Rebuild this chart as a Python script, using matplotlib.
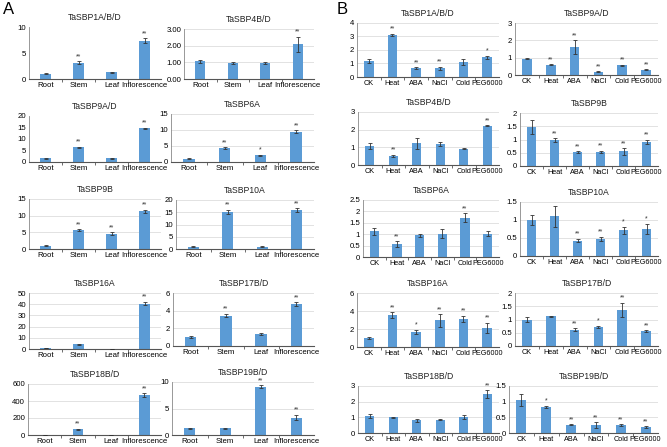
import matplotlib
matplotlib.use("Agg")
import matplotlib.pyplot as plt
from matplotlib.ticker import FuncFormatter

plt.rcParams['font.family'] = ['Liberation Sans', 'DejaVu Sans']

W, H = 667, 447

tissues = ["Root", "Stem", "Leaf", "Inflorescence"]
treatments = ["CK", "Heat", "ABA", "NaCl", "Cold", "PEG6000"]

# Panel A: tissue expression
a_titles = ["TaSBP1A/B/D", "TaSBP4B/D", "TaSBP9A/D", "TaSBP6A", "TaSBP9B",
            "TaSBP10A", "TaSBP16A", "TaSBP17B/D", "TaSBP18B/D", "TaSBP19B/D"]
a_values = [
    [1.0, 3.1, 1.3, 7.4],
    [1.07, 0.97, 0.98, 2.08],
    [1.6, 6.4, 1.6, 14.6],
    [1.0, 4.4, 2.1, 9.5],
    [1.0, 5.7, 4.6, 11.3],
    [1.0, 15.2, 1.0, 15.8],
    [1.0, 4.2, 0.3, 40.5],
    [1.0, 3.45, 1.35, 4.75],
    [1.0, 65, 1.0, 470],
    [1.3, 1.3, 9.1, 3.3],
]
a_errors = [
    [0.1, 0.3, 0.1, 0.4],
    [0.1, 0.06, 0.07, 0.45],
    [0.2, 0.3, 0.2, 0.3],
    [0.1, 0.3, 0.2, 0.4],
    [0.1, 0.2, 0.4, 0.5],
    [0.2, 0.9, 0.2, 0.9],
    [0.2, 0.4, 0.1, 1.5],
    [0.08, 0.2, 0.08, 0.2],
    [0.5, 8, 0.5, 25],
    [0.1, 0.1, 0.25, 0.5],
]
a_sig = [
    ["", "**", "", "**"],
    ["", "", "", "**"],
    ["", "**", "", "**"],
    ["", "**", "*", "**"],
    ["", "**", "**", "**"],
    ["", "**", "", "**"],
    ["", "", "", "**"],
    ["", "**", "", "**"],
    ["", "**", "", "**"],
    ["", "", "**", "**"],
]
a_yticks = [
    [0, 5, 10],
    [0, 1, 2, 3],
    [0, 5, 10, 15, 20],
    [0, 5, 10, 15],
    [0, 5, 10, 15],
    [0, 5, 10, 15, 20],
    [0, 10, 20, 30, 40, 50],
    [0, 2, 4, 6],
    [0, 200, 400, 600],
    [0, 5, 10],
]

# Panel B: stress treatments
b_titles = ["TaSBP1A/B/D", "TaSBP9A/D", "TaSBP4B/D", "TaSBP9B", "TaSBP6A",
            "TaSBP10A", "TaSBP16A", "TaSBP17B/D", "TaSBP18B/D", "TaSBP19B/D"]
b_values = [
    [1.15, 3.1, 0.65, 0.65, 1.1, 1.45],
    [0.95, 0.58, 1.6, 0.18, 0.57, 0.3],
    [1.08, 0.52, 1.23, 1.2, 0.93, 2.22],
    [1.47, 0.97, 0.52, 0.53, 0.55, 0.92],
    [1.12, 0.57, 0.95, 1.03, 1.73, 1.03],
    [1.0, 1.1, 0.43, 0.48, 0.71, 0.75],
    [1.0, 3.55, 1.7, 2.95, 3.1, 2.15],
    [1.0, 1.13, 0.62, 0.72, 1.37, 0.57],
    [1.08, 1.0, 0.8, 0.85, 1.0, 2.48],
    [1.05, 0.83, 0.26, 0.25, 0.25, 0.18],
]
b_errors = [
    [0.15, 0.1, 0.08, 0.1, 0.2, 0.12],
    [0.05, 0.03, 0.4, 0.03, 0.03, 0.03],
    [0.15, 0.05, 0.3, 0.1, 0.03, 0.03],
    [0.25, 0.07, 0.03, 0.05, 0.12, 0.08],
    [0.15, 0.12, 0.07, 0.18, 0.18, 0.12],
    [0.15, 0.3, 0.05, 0.06, 0.1, 0.15],
    [0.07, 0.3, 0.2, 0.7, 0.35, 0.55],
    [0.08, 0.02, 0.06, 0.05, 0.27, 0.03],
    [0.13, 0.05, 0.12, 0.05, 0.12, 0.25],
    [0.18, 0.04, 0.02, 0.1, 0.03, 0.03],
]
b_sig = [
    ["", "**", "**", "**", "", "*"],
    ["", "**", "**", "**", "**", "**"],
    ["", "**", "", "", "", "**"],
    ["", "**", "**", "**", "**", "**"],
    ["", "**", "", "", "**", ""],
    ["", "", "**", "**", "*", "*"],
    ["", "**", "*", "**", "**", "**"],
    ["", "", "**", "*", "**", "**"],
    ["", "", "", "", "", "**"],
    ["", "*", "**", "**", "**", "**"],
]
b_yticks = [
    [0, 1, 2, 3, 4],
    [0, 1, 2, 3],
    [0, 1, 2, 3],
    [0, 0.5, 1, 1.5, 2],
    [0, 0.5, 1, 1.5, 2, 2.5],
    [0, 0.5, 1, 1.5],
    [0, 2, 4, 6],
    [0, 0.5, 1, 1.5, 2],
    [0, 1, 2, 3],
    [0, 0.5, 1, 1.5],
]

# axes rectangles in pixels: (x0, x1, y_top, y_bottom)
a_rects = [
    (29, 161, 27, 79), (184, 314, 29, 79),
    (29, 161, 116, 162), (171, 314, 114, 162),
    (29, 161, 199, 249), (176, 314, 200, 249),
    (29, 161, 293, 349), (173, 314, 293, 346),
    (28, 161, 384, 435), (172, 314, 382, 435),
]
b_rects = [
    (357, 499, 23, 77), (515, 658, 23, 75),
    (358, 499, 112, 165), (520, 658, 113, 166),
    (363, 499, 200, 257), (520, 658, 202, 256),
    (357, 499, 293, 347), (515, 658, 293, 346),
    (358, 499, 386, 433), (509, 658, 386, 433),
]
a_grid = [False, True, False, True, True, True, True, True, True, True]

BAR = "#5b9bd5"
fig = plt.figure(figsize=(W / 100, H / 100), dpi=100)


def fmt_default(v, pos):
    return "%g" % v


def fmt_2dec(v, pos):
    return "%.2f" % v


def draw(rect, cats, vals, errs, sig, yticks, title, width, xsize,
         grid=True, fmt=fmt_default):
    x0, x1, yt, yb = rect
    ax = fig.add_axes([x0 / W, 1 - yb / H, (x1 - x0) / W, (yb - yt) / H])
    xs = list(range(len(cats)))
    ax.bar(xs, vals, width=width, color=BAR, zorder=2)
    ax.errorbar(xs, vals, yerr=errs, fmt="none", ecolor="#333333",
                elinewidth=0.6, capsize=1.2, capthick=0.6, zorder=3)
    ymax = yticks[-1]
    for x, v, e, s in zip(xs, vals, errs, sig):
        if s:
            ax.text(x, v + e + ymax * 0.02, s, ha="center", va="bottom",
                    fontsize=5, color="#333333")
    ax.set_xlim(-0.5, len(cats) - 0.5)
    ax.set_ylim(0, ymax)
    ax.set_yticks(yticks)
    ax.yaxis.set_major_formatter(FuncFormatter(fmt))
    ax.set_xticks(xs)
    ax.set_xticklabels(cats)
    ax.tick_params(axis="x", length=0, labelsize=xsize, pad=2.5, colors="black")
    ax.tick_params(axis="y", length=0, labelsize=5.6, pad=2, colors="black")
    ax.set_xticks([i + 0.5 for i in xs[:-1]], minor=True)
    ax.tick_params(axis="x", which="minor", length=2, width=0.6, color="#555555")
    for sp in ["top", "right"]:
        ax.spines[sp].set_visible(False)
    ax.spines["left"].set_color("#888888")
    ax.spines["left"].set_linewidth(0.6)
    ax.spines["bottom"].set_color("#555555")
    ax.spines["bottom"].set_linewidth(0.8)
    if grid:
        ax.yaxis.grid(True, color="#dddddd", linewidth=0.6, zorder=0)
        ax.set_axisbelow(True)
    ax.set_title(title, fontsize=6.2, pad=5, color="#222222")
    return ax


for i in range(10):
    draw(a_rects[i], tissues, a_values[i], a_errors[i], a_sig[i], a_yticks[i],
         a_titles[i], 0.32, 5.6, grid=a_grid[i],
         fmt=fmt_2dec if i == 1 else fmt_default)

for i in range(10):
    draw(b_rects[i], treatments, b_values[i], b_errors[i], b_sig[i], b_yticks[i],
         b_titles[i], 0.4, 5.2)

fig.text(3 / W, 1 - 2 / H, "A", fontsize=12, ha="left", va="top")
fig.text(337 / W, 1 - 2 / H, "B", fontsize=12, ha="left", va="top")

fig.savefig("out.png", dpi=100)
